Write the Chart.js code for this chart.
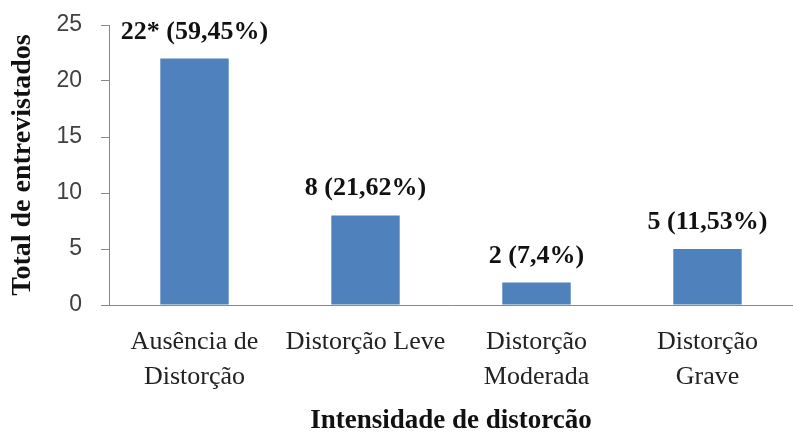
<!DOCTYPE html>
<html lang="pt">
<head>
<meta charset="UTF-8">
<title>Intensidade de distorção</title>
<style>
    body { margin: 0; background: #fff; }
    #wrap { width: 793px; height: 435px; }
</style>
</head>
<body>
<div id="wrap"><canvas id="chart" width="793" height="435"></canvas></div>
<script src="https://cdn.jsdelivr.net/npm/chart.js"></script>
<script>
    const categories = [
        ['Ausência de', 'Distorção'],
        'Distorção Leve',
        ['Distorção', 'Moderada'],
        ['Distorção', 'Grave']
    ];
    const totals = [22, 8, 2, 5];
    const barLabels = ['22* (59,45%)', '8 (21,62%)', '2 (7,4%)', '5 (11,53%)'];
    const yTicks = [0, 5, 10, 15, 20, 25];

    // draw the value text above each bar
    const valueLabels = {
        id: 'valueLabels',
        afterDatasetsDraw(chart) {
            const ctx = chart.ctx;
            const meta = chart.getDatasetMeta(0);
            ctx.save();
            ctx.font = 'bold 26px "Liberation Serif", "DejaVu Serif", serif';
            ctx.fillStyle = '#111';
            ctx.textAlign = 'center';
            ctx.textBaseline = 'alphabetic';
            meta.data.forEach((bar, i) => {
                ctx.fillText(barLabels[i], bar.x, bar.y - 20);
            });
            ctx.restore();
        }
    };

    new Chart(document.getElementById('chart'), {
        type: 'bar',
        data: {
            labels: categories,
            datasets: [{
                data: totals,
                backgroundColor: '#4F81BD',
                borderWidth: 0,
                barPercentage: 0.4,
                categoryPercentage: 1
            }]
        },
        options: {
            responsive: false,
            animation: false,
            layout: { padding: { top: 25, right: 0, bottom: 0, left: 0 } },
            plugins: {
                legend: { display: false },
                tooltip: { enabled: false }
            },
            scales: {
                x: {
                    afterFit: (scale) => { scale.height = 130; },
                    grid: { display: false, drawTicks: false },
                    border: { color: '#888' },
                    ticks: {
                        padding: 19,
                        color: '#222',
                        maxRotation: 0,
                        autoSkip: false,
                        font: { family: '"Liberation Serif", serif', size: 26, lineHeight: 1.36 }
                    },
                    title: {
                        display: true,
                        text: 'Intensidade de distorcão',
                        color: '#111',
                        padding: { top: 0, bottom: -2 },
                        font: { family: '"Liberation Serif", serif', size: 27, weight: 'bold' }
                    }
                },
                y: {
                    min: 0,
                    max: 25,
                    afterFit: (scale) => {
                        scale.width = 109;
                        scale.paddingTop = 0;
                        scale.paddingBottom = 0;
                    },
                    afterBuildTicks: (scale) => { scale.ticks = yTicks.map(v => ({ value: v })); },
                    grid: { drawOnChartArea: false, tickLength: 8, color: '#888' },
                    border: { color: '#888' },
                    ticks: {
                        padding: 19,
                        color: '#404040',
                        font: { family: '"Liberation Sans", Arial, sans-serif', size: 23 }
                    },
                    title: {
                        display: true,
                        text: 'Total de entrevistados',
                        color: '#111',
                        padding: { top: 6, bottom: 0 },
                        font: { family: '"Liberation Serif", serif', size: 28, weight: 'bold' }
                    }
                }
            }
        },
        plugins: [valueLabels]
    });
</script>
</body>
</html>
